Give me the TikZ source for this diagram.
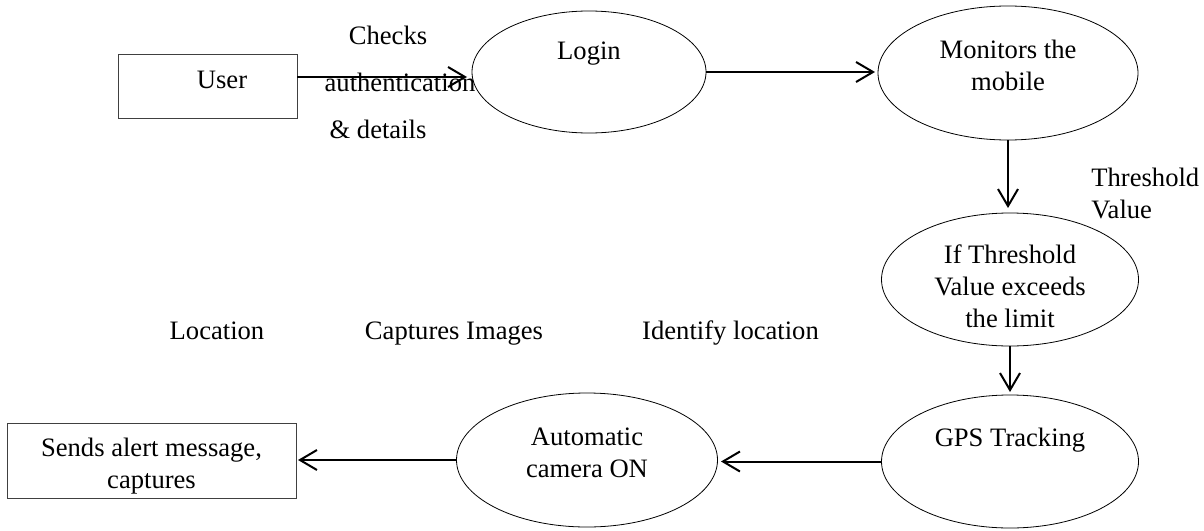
\documentclass[tikz,border=0pt]{standalone}
\usepackage{fontspec}
\setmainfont{Liberation Serif}
\usetikzlibrary{arrows.meta,shapes.geometric}

\begin{document}
\begin{tikzpicture}[x=0.5pt, y=-0.5pt,
  font=\fontsize{13.3}{16}\selectfont,
  flow/.style={-{Straight Barb[length=8.5pt,width=10pt]}, line width=1pt},
  proc/.style={ellipse, draw, line width=0.4pt, inner sep=0pt, outer sep=0pt},
  box/.style={rectangle, draw=black!75, line width=0.5pt, inner sep=0pt, outer sep=0pt},
  txt/.style={align=center, inner sep=0pt},
  lbl/.style={txt, text height=0.8em, text depth=0.14em}]
  \useasboundingbox (0,0) rectangle (1204,530);

  % processes
  \node[box, minimum width=89.5pt, minimum height=32pt,
        label={[lbl, xshift=7.25pt, yshift=2pt]center:User}] (user) at (207.5,86) {};
  \node[proc, minimum width=117pt, minimum height=61pt,
        label={[lbl, yshift=9.5pt]center:Login}] (login) at (589,72) {};
  \node[proc, minimum width=130pt, minimum height=67pt,
        label={[txt, yshift=3.75pt]center:{Monitors the\\mobile}}] (monitors) at (1008,73) {};
  \node[proc, minimum width=128.5pt, minimum height=66.5pt,
        label={[txt, yshift=-3.25pt]center:{If Threshold\\Value exceeds\\the limit}}] (threshold) at (1010,279.5) {};
  \node[proc, minimum width=128.5pt, minimum height=66.5pt,
        label={[lbl, yshift=10.75pt]center:GPS Tracking}] (gps) at (1010,461.5) {};
  \node[proc, minimum width=130.5pt, minimum height=67pt,
        label={[txt, yshift=3.75pt]center:{Automatic\\camera ON}}] (auto) at (587,460) {};
  \node[box, minimum width=144.5pt, minimum height=37.5pt,
        label={[txt, yshift=-2.75pt]center:{Sends alert message,\\captures}}] (sends) at (151.5,460.5) {};

  % flow labels
  \node[lbl] (chk1) at (388,38) {Checks};
  \node[lbl] (chk2) at (400,85) {authentication};
  \node[lbl] (chk3) at (378,132) {\& details};
  \node[txt, anchor=west, align=left] (thr) at (1091,193.5) {Threshold\\Value};
  \node[lbl] (loc) at (217,333) {Location};
  \node[lbl] (capimg) at (454,333) {Captures Images};
  \node[lbl] (idloc) at (730.5,333) {Identify location};

  % arrows
  \draw[flow, shorten >=2.5pt] ([yshift=4.5pt]user.east) -- ([yshift=4.5pt]user.east -| login.west);
  \draw[flow, shorten >=1.5pt] (login.east) -- (login.east -| monitors.west);
  \draw[flow, shorten >=2.5pt] (monitors.south) -- (monitors.south |- threshold.north);
  \draw[flow, shorten >=1.5pt] (threshold.south) -- (threshold.south |- gps.north);
  \draw[flow, shorten >=1.75pt] (gps.west) -- (gps.west -| auto.east);
  \draw[flow, shorten >=1pt] (auto.west) -- (auto.west -| sends.east);
\end{tikzpicture}
\end{document}
